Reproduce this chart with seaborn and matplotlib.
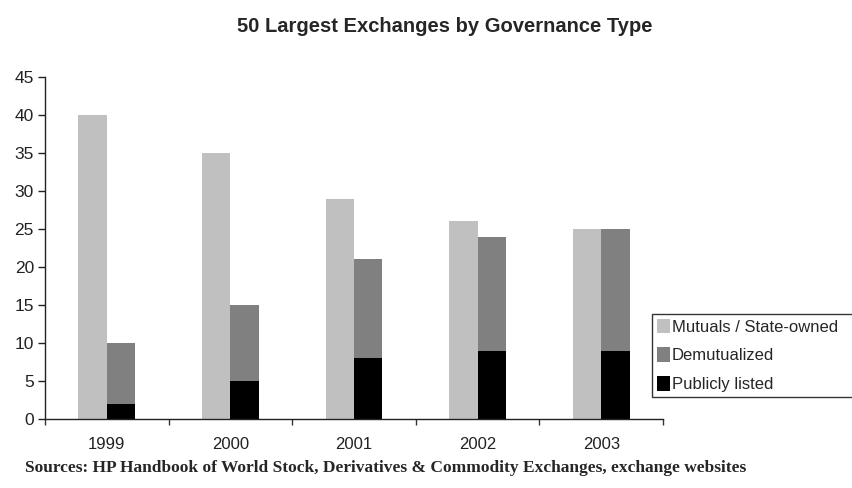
import matplotlib
matplotlib.use("Agg")
import matplotlib.pyplot as plt
import matplotlib.patches as mpatches
import numpy as np
import pandas as pd
import seaborn as sns

years = ["1999", "2000", "2001", "2002", "2003"]
mutuals = [40, 35, 29, 26, 25]
demutualized = [10, 15, 21, 24, 25]
publicly_listed = [2, 5, 8, 9, 9]
series_names = ["Mutuals / State-owned", "Demutualized", "Publicly listed"]
colors = ["#c0c0c0", "#808080", "#000000"]

sns.set_style("ticks")
plt.rcParams["font.family"] = ["Liberation Sans", "DejaVu Sans"]

df = pd.DataFrame({
    "year": years * 2,
    "type": [series_names[0]] * 5 + [series_names[1]] * 5,
    "value": mutuals + demutualized,
})
df_pub = pd.DataFrame({
    "year": years * 2,
    "type": [series_names[0]] * 5 + [series_names[1]] * 5,
    "value": [0] * 5 + publicly_listed,
})

fig = plt.figure(figsize=(8.52, 4.88), dpi=100)
ax = fig.add_axes([45 / 852, 1 - 419 / 488, (663 - 45) / 852, (419 - 77) / 488])

sns.barplot(data=df, x="year", y="value", hue="type", order=years,
            hue_order=series_names[:2], palette=colors[:2], width=0.46,
            linewidth=0, saturation=1, errorbar=None, ax=ax, legend=False)
sns.barplot(data=df_pub, x="year", y="value", hue="type", order=years,
            hue_order=series_names[:2], palette=["#000000", "#000000"], width=0.46,
            linewidth=0, saturation=1, errorbar=None, ax=ax, legend=False)

ax.set_xlim(-0.5, 4.5)
ax.set_ylim(0, 45)
ax.set_yticks(np.arange(0, 46, 5))
ax.set_xlabel("")
ax.set_ylabel("")
ax.set_xticks(np.arange(-0.5, 5, 1), minor=True)
ax.tick_params(axis="x", which="major", length=0, pad=13, labelsize=12, colors="#222222")
ax.tick_params(axis="x", which="minor", length=4, width=1, color="#333333")
ax.tick_params(axis="y", length=5, width=1, labelsize=12.5, colors="#222222", pad=3)
for s in ["top", "right"]:
    ax.spines[s].set_visible(False)
for s in ["left", "bottom"]:
    ax.spines[s].set_color("#222222")
    ax.spines[s].set_linewidth(1)

handles = [mpatches.Patch(facecolor=c, edgecolor="none", label=n) for c, n in zip(colors, series_names)]
leg = fig.legend(handles=handles, loc="lower left",
                 bbox_to_anchor=(652 / 852, 1 - 397 / 488, 210 / 852, 85 / 488),
                 mode="expand",
                 frameon=True, fancybox=False, fontsize=12, handlelength=0.75,
                 handleheight=1.0, handletextpad=0.15, labelspacing=0.75,
                 borderpad=0.3, borderaxespad=0)
leg.get_frame().set_edgecolor("#000000")
leg.get_frame().set_linewidth(1)

fig.text(445 / 852, 1 - 27 / 488, "50 Largest Exchanges by Governance Type",
         ha="center", va="center", fontsize=14.5, fontweight="bold")
fig.text(25 / 852, 1 - 468 / 488,
         "Sources: HP Handbook of World Stock, Derivatives & Commodity Exchanges, exchange websites",
         ha="left", va="center", fontsize=12.5, fontweight="bold",
         family=["Liberation Serif", "DejaVu Serif"])

fig.savefig("out.png", dpi=100)
